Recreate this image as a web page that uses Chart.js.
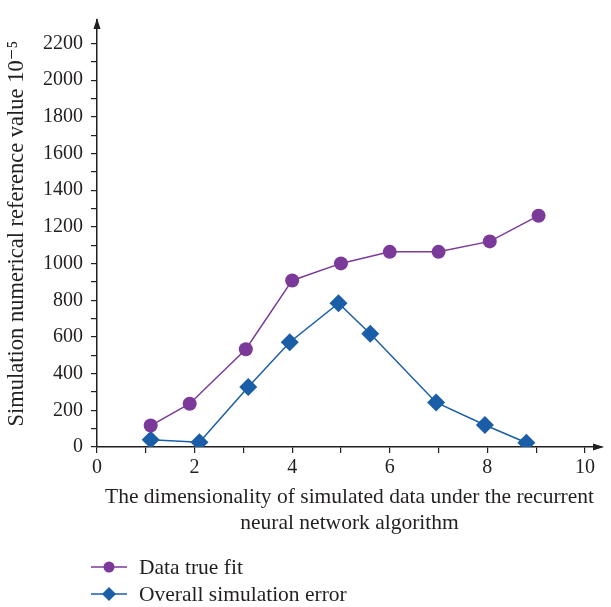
<!DOCTYPE html>
<html>
<head>
<meta charset="utf-8">
<script src="https://cdn.jsdelivr.net/npm/chart.js@4/dist/chart.umd.min.js"></script>
<style>
  html, body { margin: 0; padding: 0; background: #fff; }
  canvas { display: block; }
</style>
</head>
<body>
<canvas id="chartSimulation" width="611" height="607"></canvas>
<script>
/** Values */
const fitLabel = 'Data true fit';
const fitX = [1.1, 1.9, 3.05, 4.0, 5.0, 6.0, 7.0, 8.05, 9.05];
const fitY = [117, 236, 533, 908, 1001, 1064, 1064, 1121, 1261];

const errLabel = 'Overall simulation error';
const errX = [1.1, 2.1, 3.1, 3.95, 4.95, 5.6, 6.95, 7.95, 8.8];
const errY = [40, 26, 327, 571, 784, 617, 243, 120, 23];

const xTicks = [0, 1, 2, 3, 4, 5, 6, 7, 8, 9, 10];
const yTicks = [0, 100, 200, 300, 400, 500, 600, 700, 800, 900, 1000, 1100,
                1200, 1300, 1400, 1500, 1600, 1700, 1800, 1900, 2000, 2100, 2200];

const xTitle = ['The dimensionality of simulated data under the recurrent', 'neural network algorithm'];
const yTitle = 'Simulation numerical reference value 10\u207B\u2075';

const ink = '#231f20';
const purple = '#7b3a9a';
const blue = '#1a5ea8';
const family = "'Liberation Serif', 'DejaVu Serif', serif";
const tickFont = { family: family, size: 20 };
const textFont = { family: family, size: 21.5 };
const yTitleFont = { family: family, size: 22.5 };

/** arrows on axes and the stacked legend under the chart */
const axisDecor = {
    id: 'axisDecor',
    afterDraw(chart) {
        const { ctx, chartArea: a } = chart;
        ctx.save();
        ctx.fillStyle = ink;
        // y arrow
        ctx.beginPath();
        ctx.moveTo(a.left, a.top - 2);
        ctx.lineTo(a.left - 3.5, a.top + 9);
        ctx.lineTo(a.left + 3.5, a.top + 9);
        ctx.closePath();
        ctx.fill();
        // x arrow
        ctx.beginPath();
        ctx.moveTo(a.right + 2, a.bottom);
        ctx.lineTo(a.right - 9, a.bottom - 3.5);
        ctx.lineTo(a.right - 9, a.bottom + 3.5);
        ctx.closePath();
        ctx.fill();

        // legend
        ctx.font = textFont.size + 'px ' + family;
        ctx.textBaseline = 'middle';
        chart.data.datasets.forEach((ds, i) => {
            const y = 567 + i * 27;
            ctx.strokeStyle = ds.borderColor;
            ctx.lineWidth = 1.5;
            ctx.beginPath();
            ctx.moveTo(91, y);
            ctx.lineTo(127, y);
            ctx.stroke();
            ctx.fillStyle = ds.pointBackgroundColor;
            ctx.beginPath();
            if (ds.pointStyle === 'rectRot') {
                ctx.moveTo(109, y - 7);
                ctx.lineTo(116, y);
                ctx.lineTo(109, y + 7);
                ctx.lineTo(102, y);
                ctx.closePath();
            } else {
                ctx.arc(109, y, 5.5, 0, Math.PI * 2);
            }
            ctx.fill();
            ctx.fillStyle = ink;
            ctx.fillText(ds.label, 139, y + 1);
        });
        ctx.restore();
    }
};

const _chartSimulation = document.getElementById('chartSimulation');

new Chart(_chartSimulation, {
    type: 'line',
    data: {
        datasets: [
            {
                label: fitLabel,
                data: fitX.map((x, i) => ({ x: x, y: fitY[i] })),
                borderColor: purple,
                backgroundColor: purple,
                pointBackgroundColor: purple,
                pointBorderWidth: 0,
                pointStyle: 'circle',
                pointRadius: 7,
                borderWidth: 1.5,
                tension: 0
            },
            {
                label: errLabel,
                data: errX.map((x, i) => ({ x: x, y: errY[i] })),
                borderColor: blue,
                backgroundColor: blue,
                pointBackgroundColor: blue,
                pointBorderWidth: 0,
                pointStyle: 'rectRot',
                pointRadius: 9,
                borderWidth: 1.5,
                tension: 0
            }
        ]
    },
    options: {
        responsive: false,
        animation: false,
        layout: { padding: { top: 12, right: 5, bottom: 70, left: 0 } },
        plugins: {
            legend: { display: false },
            tooltip: { enabled: false }
        },
        scales: {
            x: {
                type: 'linear',
                min: 0,
                max: 10.35,
                afterBuildTicks: s => { s.ticks = xTicks.map(v => ({ value: v })); },
                afterFit: s => { s.height = 90; },
                ticks: {
                    autoSkip: false,
                    maxRotation: 0,
                    padding: 3,
                    color: ink,
                    font: tickFont,
                    callback: v => (v % 2 === 0 ? v : '')
                },
                grid: { drawOnChartArea: false, tickLength: 6, color: ink, lineWidth: 1.2 },
                border: { color: ink, width: 1.5 },
                title: { display: true, text: xTitle, color: ink, font: textFont, padding: { top: 2, bottom: 1 } }
            },
            y: {
                min: 0,
                max: 2328,
                afterBuildTicks: s => { s.ticks = yTicks.map(v => ({ value: v })); },
                afterFit: s => { s.width = 97; },
                ticks: {
                    autoSkip: false,
                    padding: 8,
                    color: ink,
                    font: tickFont,
                    callback: v => (v % 200 === 0 ? v : '')
                },
                grid: { drawOnChartArea: false, tickLength: 6, color: ink, lineWidth: 1.2 },
                border: { color: ink, width: 1.5 },
                title: { display: true, text: yTitle, color: ink, font: yTitleFont, padding: { top: 4, bottom: 6 } }
            }
        }
    },
    plugins: [axisDecor]
});
</script>
</body>
</html>
